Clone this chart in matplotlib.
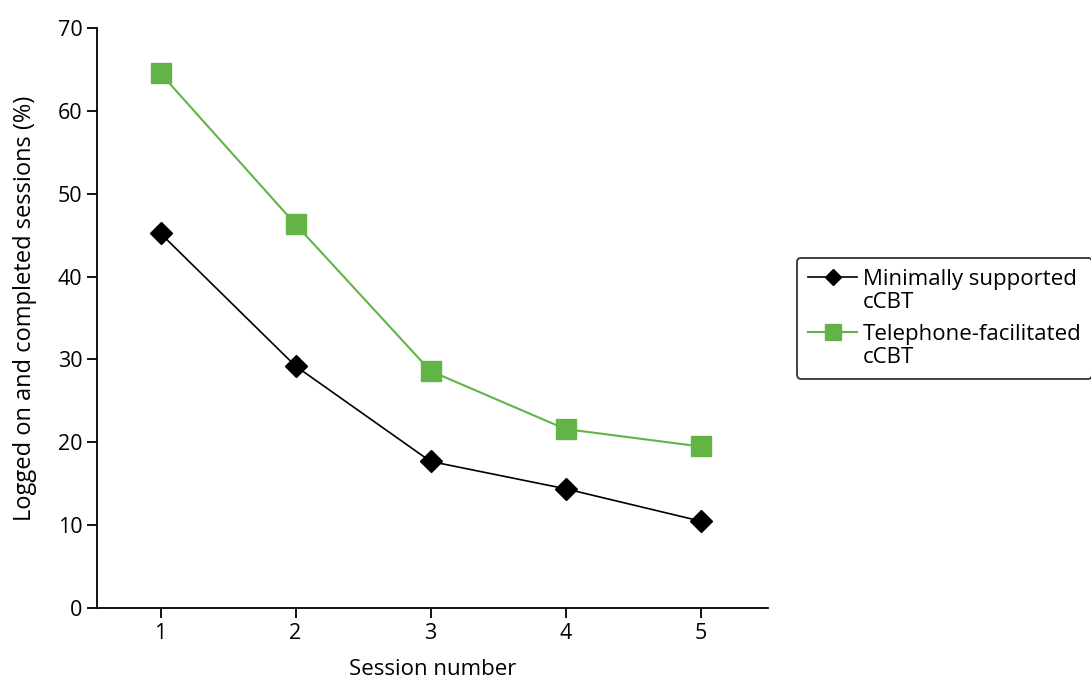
import matplotlib
matplotlib.use("Agg")
import matplotlib.pyplot as plt

plt.rcParams['font.family'] = ['Open Sans', 'DejaVu Sans']

# Data
sessions = [1, 2, 3, 4, 5]
minimal = [45.2, 29.2, 17.7, 14.4, 10.5]
telephone = [64.5, 46.3, 28.6, 21.6, 19.5]
labels = ["Minimally supported\ncCBT", "Telephone-facilitated\ncCBT"]

green = "#62b446"

fig = plt.figure(figsize=(10.91, 6.78), dpi=100)
ax = fig.add_axes([0.089, 0.103, 0.615, 0.856])

ax.plot(sessions, minimal, color="black", lw=1.2, marker="D", ms=11,
        label=labels[0], zorder=3)
ax.plot(sessions, telephone, color=green, lw=1.5, marker="s", ms=15,
        label=labels[1], zorder=3)

ax.set_xlim(0.53, 5.5)
ax.set_ylim(0, 70)
ax.set_xticks(sessions)
ax.set_yticks(range(0, 71, 10))
ax.spines[["top", "right"]].set_visible(False)
for s in ["left", "bottom"]:
    ax.spines[s].set_linewidth(1.3)
ax.tick_params(length=7, width=1.3, labelsize=15.5)
ax.set_xlabel("Session number", fontsize=16, labelpad=11)
ax.set_ylabel("Logged on and completed sessions (%)", fontsize=17, labelpad=14)
ax.yaxis.set_label_coords(-0.09, 0.516)

leg = fig.legend(loc="upper left", bbox_to_anchor=(0.7305, 0.62), fontsize=16,
                 frameon=True, fancybox=True, edgecolor="black", handlelength=2.2,
                 handletextpad=0.25, labelspacing=0.5, borderaxespad=0,
                 borderpad=0.5)
leg.get_frame().set_linewidth(1.3)
for t in leg.get_texts():
    t.set_linespacing(1.12)
for h in leg.legend_handles:
    h.set_markersize(h.get_markersize() * 0.75)
# put each handle next to the first line of its label
for col in leg._legend_handle_box.get_children():
    for item in col.get_children():
        item.align = "top"

fig.savefig("out.png", dpi=100)
